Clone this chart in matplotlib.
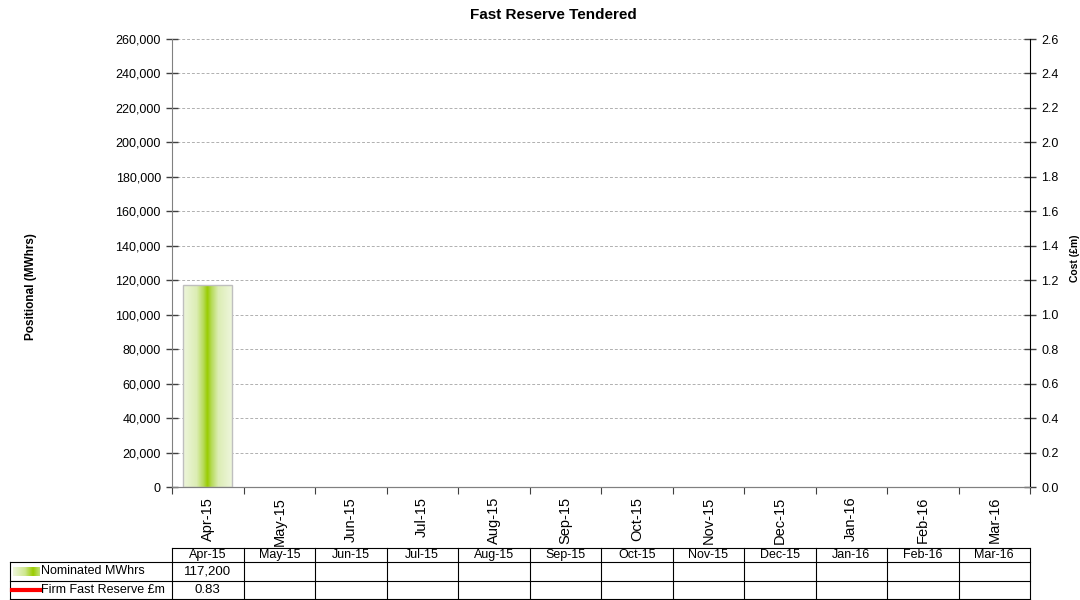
import numpy as np
import matplotlib.pyplot as plt
from matplotlib.colors import LinearSegmentedColormap
from matplotlib.ticker import FuncFormatter

plt.rcParams['font.family'] = ['Liberation Sans', 'DejaVu Sans']

months = ['Apr-15', 'May-15', 'Jun-15', 'Jul-15', 'Aug-15', 'Sep-15',
          'Oct-15', 'Nov-15', 'Dec-15', 'Jan-16', 'Feb-16', 'Mar-16']
nominated_mwh = [117200] + [np.nan] * 11
firm_cost = [0.83] + [np.nan] * 11
series_names = ['Nominated MWhrs', 'Firm Fast Reserve £m']

green_cmap = LinearSegmentedColormap.from_list(
    'bar_green', [(0.0, '#eef6dc'), (0.28, '#dcedb4'), (0.42, '#b5da55'),
                  (0.5, '#99cc00'), (0.58, '#b5da55'), (0.72, '#dcedb4'),
                  (1.0, '#eef6dc')])
key_cmap = LinearSegmentedColormap.from_list(
    'key_green', [(0.0, '#eef6dc'), (0.45, '#cfe78f'), (0.75, '#99cc00'), (1.0, '#c4e27a')])

fig = plt.figure(figsize=(10.8, 6.0), dpi=100)
W, H = 1080, 600
ax = fig.add_axes([172 / W, 1 - 487 / H, (1030 - 172) / W, (487 - 39) / H])
ax2 = ax.twinx()

x = np.arange(len(months))
bars = ax.bar(x, nominated_mwh, width=0.68, facecolor='none',
              edgecolor='#bfbfbf', linewidth=1.0, zorder=3)
grad = np.linspace(0, 1, 256).reshape(1, -1)
for b in bars:
    h = b.get_height()
    if np.isnan(h) or h == 0:
        continue
    x0 = b.get_x()
    im = ax.imshow(grad, cmap=green_cmap, aspect='auto', zorder=2,
                   extent=[x0, x0 + b.get_width(), 0, h], interpolation='bilinear')
    im.set_clip_path(b)

ax2.plot(x, firm_cost, color='#ff0000', linewidth=3, zorder=4)

ax.set_xlim(-0.5, len(months) - 0.5)
ax.set_ylim(0, 260000)
ax.set_yticks(np.arange(0, 260001, 20000))
ax.yaxis.set_major_formatter(FuncFormatter(lambda v, p: f'{int(v):,}'))
ax2.set_ylim(0, 2.6)
ax2.set_yticks(np.arange(0, 2.61, 0.2))
ax2.yaxis.set_major_formatter(FuncFormatter(lambda v, p: f'{v:.1f}'))

ax.grid(axis='y', color='#b0b0b0', linestyle=(0, (3, 2)), linewidth=0.7, zorder=0)
ax.set_axisbelow(True)

for a in (ax, ax2):
    a.spines['top'].set_visible(False)
    for s in a.spines.values():
        s.set_color('#808080')
ax2.spines['left'].set_visible(False)
ax.spines['right'].set_visible(False)
ax2.spines['right'].set_color('#000000')

ax.tick_params(axis='y', direction='inout', length=8, width=1, color='#404040',
               labelsize=9, pad=4)
ax2.tick_params(axis='y', direction='inout', length=8, width=1, color='#404040',
                labelsize=9, pad=4)

# category ticks sit between months, labels centred under each month
ax.set_xticks(np.arange(-0.5, len(months)), minor=False)
ax.set_xticklabels([''] * (len(months) + 1))
ax.tick_params(axis='x', direction='out', length=5, color='#404040')
for i, m in enumerate(months):
    ax.text(i, -0.022, m, transform=ax.get_xaxis_transform(), rotation=90,
            ha='center', va='top', fontsize=10.5)

ax.set_ylabel('Positional (MWhrs)', fontsize=8.5, fontweight='bold')
ax.yaxis.set_label_coords(37 / W, 1 - 287 / H, transform=fig.transFigure)
ax2.set_ylabel('Cost (£m)', fontsize=7.5, fontweight='bold')
ax2.yaxis.set_label_coords(1070 / W, 1 - 258 / H, transform=fig.transFigure)
fig.text(553 / W, 1 - 15 / H, 'Fast Reserve Tendered', ha='center', va='center',
         fontsize=11, fontweight='bold')

# data table below the chart
tx0, tx1 = 172 / W, 1030 / W
lx = 10 / W
rows_y = [548 / H, 562 / H, 581 / H, 599 / H]
fy = lambda py: 1 - py
colw = (tx1 - tx0) / len(months)
lc = dict(color='black', linewidth=0.8, transform=fig.transFigure)
fig.add_artist(plt.Line2D([tx0, tx1], [fy(rows_y[0])] * 2, **lc))
for ry in rows_y[1:]:
    fig.add_artist(plt.Line2D([lx, tx1], [fy(ry)] * 2, **lc))
fig.add_artist(plt.Line2D([lx, lx], [fy(rows_y[1]), fy(rows_y[3])], **lc))
for j in range(len(months) + 1):
    xx = tx0 + j * colw
    fig.add_artist(plt.Line2D([xx, xx], [fy(rows_y[0]), fy(rows_y[3])], **lc))

for j, m in enumerate(months):
    cx = tx0 + (j + 0.5) * colw
    fig.text(cx, fy((rows_y[0] + rows_y[1]) / 2), m, ha='center', va='center', fontsize=9)
    if not np.isnan(nominated_mwh[j]):
        fig.text(cx, fy((rows_y[1] + rows_y[2]) / 2), f'{int(nominated_mwh[j]):,}',
                 ha='center', va='center', fontsize=9.5)
    if not np.isnan(firm_cost[j]):
        fig.text(cx, fy((rows_y[2] + rows_y[3]) / 2), f'{firm_cost[j]:.2f}',
                 ha='center', va='center', fontsize=9.5)

# legend keys in the label column
key_ax = fig.add_axes([13 / W, fy(576 / H), 27 / W, 9 / H])
key_ax.imshow(np.linspace(0, 1, 64).reshape(1, -1), cmap=key_cmap, aspect='auto')
key_ax.set_axis_off()
ry_mid = fy((rows_y[2] + rows_y[3]) / 2)
fig.add_artist(plt.Line2D([12 / W, 40 / W], [ry_mid, ry_mid], color='#ff0000',
                          linewidth=3, transform=fig.transFigure))
fig.text(41 / W, fy((rows_y[1] + rows_y[2]) / 2), series_names[0], ha='left',
         va='center', fontsize=9)
fig.text(41 / W, ry_mid, series_names[1], ha='left', va='center', fontsize=9)

fig.savefig('out.png', dpi=100)
